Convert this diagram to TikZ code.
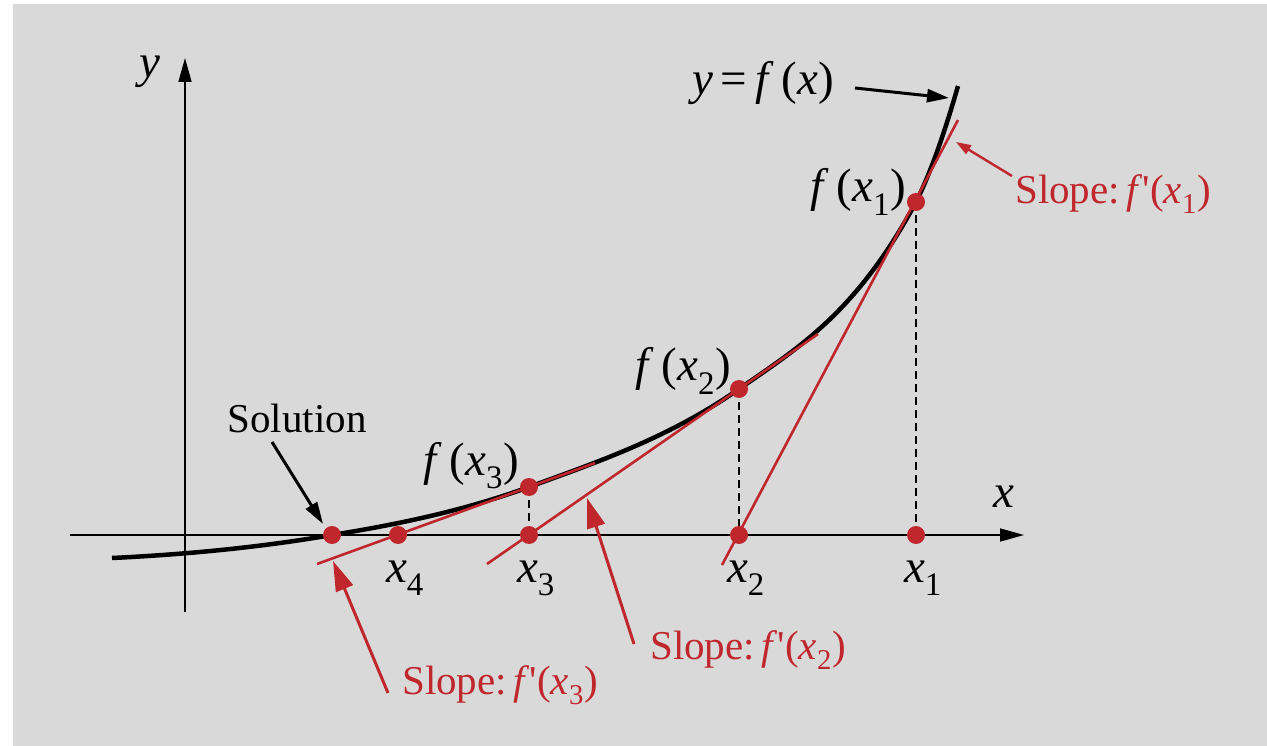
\documentclass[tikz,border=0pt]{standalone}
\usepackage{fontspec}
\setmainfont{Liberation Serif}
\usetikzlibrary{arrows.meta}
\definecolor{bg}{RGB}{217,217,217}
\definecolor{rd}{RGB}{192,39,45}
\newcommand{\mi}[1]{\textit{#1}}
\begin{document}
\begin{tikzpicture}[x=1pt,y=-1pt,
  font=\fontsize{41}{48}\selectfont,
  every node/.style={inner sep=0pt},
  mathlbl/.style={font=\fontsize{47}{54}\selectfont},
  axisline/.style={line width=1.6pt,-{Triangle[length=24pt,width=13pt]}},
  curveline/.style={line width=4.5pt},
  tanline/.style={rd,line width=2.6pt},
  dsh/.style={line width=1.6pt,dash pattern=on 8pt off 5pt},
  dot/.style={circle,fill=rd,minimum size=18pt},
  blkarrow/.style={line width=3pt,-{Triangle[length=22pt,width=13pt]}},
  redarrow/.style={rd,line width=3pt,-{Triangle[length=30pt,width=18pt]}},
  smallred/.style={rd,line width=2.4pt,-{Triangle[length=15pt,width=10pt]}},
  redtxt/.style={text=rd,anchor=west},
]
\useasboundingbox (0,0) rectangle (1267,746);
\fill[white] (0,0) rectangle (1267,746);
\fill[bg] (13,4) rectangle (1267,746);

% axes
\coordinate (xa0) at (70,535);
\coordinate (xa1) at (1024,535);
\coordinate (ya0) at (185,612);
\coordinate (ya1) at (185,58);
\draw[axisline] (xa0) -- (xa1);
\draw[axisline] (ya0) -- (ya1);
\node[mathlbl] (ylab) at (150,72) {\mi{y}};
\node[mathlbl] (xlab) at (1004,497) {\mi{x}};

% points
\coordinate (s) at (332,535);
\coordinate (q4) at (398,535);
\coordinate (q3) at (529,535);
\coordinate (q2) at (739,535);
\coordinate (q1) at (916,535);
\coordinate (p3) at (529,487);
\coordinate (p2) at (739,389);
\coordinate (p1) at (916,202);

% dashed verticals
\draw[dsh] (p3) -- (q3);
\draw[dsh] (p2) -- (q2);
\draw[dsh] (p1) -- (q1);

% curve
\coordinate (c0) at (112,558);
\coordinate (c5) at (958,86);
\draw[curveline] (c0) .. controls (185,554.5) and (259,547.5) .. (s)
  .. controls (397,524.5) and (463,511) .. (p3)
  .. controls (599,461.4) and (669,437.7) .. (p2)
  .. controls (797.7,348.2) and (856.3,313.1) .. (p1)
  .. controls (929.5,175.2) and (943.5,136.5) .. (c5);

% tangents
\coordinate (t1a) at (958,120);
\coordinate (t1b) at (722,565);
\coordinate (t2a) at (818,334);
\coordinate (t2b) at (487,564);
\coordinate (t3a) at (595,463);
\coordinate (t3b) at (317,564);
\draw[tanline] (t1a) -- (t1b);
\draw[tanline] (t2a) -- (t2b);
\draw[tanline] (t3a) -- (t3b);

% dots
\foreach \n in {s,q4,q3,q2,q1,p3,p2,p1}{\node[dot] (d\n) at (\n) {};}

% labels
\node[mathlbl] (yfx) at (763,83) {\mi{y}\,=\,\mi{f}\,(\mi{x})};
\node[mathlbl,anchor=east] (fx1) at (906,192) {\mi{f}\,(\mi{x}\textsubscript{1})};
\node[mathlbl,anchor=east] (fx2) at (731,371) {\mi{f}\,(\mi{x}\textsubscript{2})};
\node[mathlbl,anchor=east] (fx3) at (519,466) {\mi{f}\,(\mi{x}\textsubscript{3})};
\node (sol) at (297,418) {Solution};
\node[mathlbl] (lx4) at (405,578) {\mi{x}\textsubscript{4}};
\node[mathlbl] (lx3) at (536,578) {\mi{x}\textsubscript{3}};
\node[mathlbl] (lx2) at (746,578) {\mi{x}\textsubscript{2}};
\node[mathlbl] (lx1) at (923,578) {\mi{x}\textsubscript{1}};

\node[redtxt] (sl1) at (1015,194) {Slope:\,\mi{f}\textquotesingle(\mi{x}\textsubscript{1})};
\node[redtxt] (sl2) at (650,650) {Slope:\,\mi{f}\textquotesingle(\mi{x}\textsubscript{2})};
\node[redtxt] (sl3) at (402,685) {Slope:\,\mi{f}\textquotesingle(\mi{x}\textsubscript{3})};

% annotation arrows
\coordinate (a1s) at (855,88);
\coordinate (a1e) at (949,98);
\draw[blkarrow] (a1s) -- (a1e);
\coordinate (a2s) at (272,442);
\coordinate (a2e) at (323,524);
\draw[blkarrow] (a2s) -- (a2e);
\coordinate (r1s) at (1012,176);
\coordinate (r1e) at (956,142);
\draw[smallred] (r1s) -- (r1e);
\coordinate (r2s) at (634,644);
\coordinate (r2e) at (587,498);
\draw[redarrow] (r2s) -- (r2e);
\coordinate (r3s) at (388,693);
\coordinate (r3e) at (333,561);
\draw[redarrow] (r3s) -- (r3e);
\end{tikzpicture}
\end{document}
